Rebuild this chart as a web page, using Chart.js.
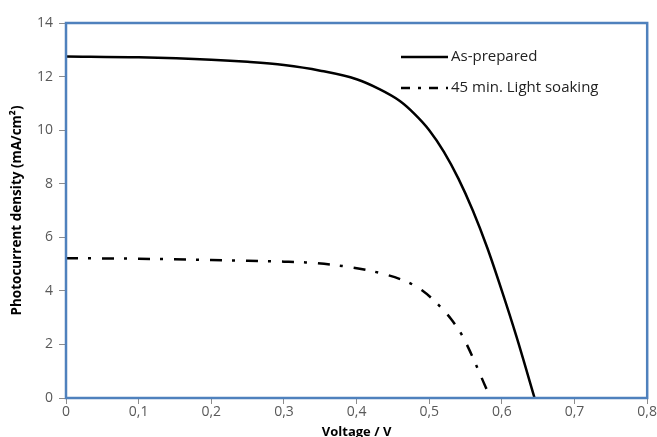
<!DOCTYPE html>
<html>
<head>
<meta charset="utf-8">
<script src="https://cdn.jsdelivr.net/npm/chart.js@4/dist/chart.umd.min.js"></script>
<style>
  html, body { margin: 0; padding: 0; background: #fff; }
  #wrap { width: 657px; height: 437px; position: relative; }
</style>
</head>
<body>
<div id="wrap"><canvas id="grafico" width="657" height="437"></canvas></div>
<script>
// Dati
const voltAsPrepared = [0, 0.1, 0.2, 0.25, 0.3, 0.35, 0.4, 0.43, 0.46, 0.48, 0.5, 0.52, 0.54, 0.56, 0.58, 0.6, 0.62, 0.645];
const jAsPrepared = [12.75, 12.72, 12.63, 12.55, 12.43, 12.22, 11.9, 11.55, 11.08, 10.6, 10.0, 9.2, 8.2, 7.0, 5.6, 4.0, 2.3, 0];

const voltSoaking = [0, 0.1, 0.2, 0.25, 0.3, 0.33, 0.38, 0.43, 0.47, 0.49, 0.51, 0.53, 0.545, 0.556, 0.567, 0.577, 0.585];
const jSoaking = [5.22, 5.2, 5.15, 5.12, 5.09, 5.06, 4.93, 4.68, 4.33, 4.02, 3.55, 2.95, 2.35, 1.75, 1.08, 0.45, 0];

const xTicks = [0, 0.1, 0.2, 0.3, 0.4, 0.5, 0.6, 0.7, 0.8];
const yTicks = [0, 2, 4, 6, 8, 10, 12, 14];
const etichette = ['As-prepared', '45 min. Light soaking'];

const trattoPunto = [12, 10, 3, 11];

function punti(xs, ys) {
    return xs.map((x, i) => ({ x: x, y: ys[i] }));
}

// Cornice blu dell'area del grafico
const cornice = {
    id: 'cornice',
    afterDraw(chart) {
        const { ctx, chartArea: a } = chart;
        ctx.save();
        ctx.strokeStyle = '#4f81bd';
        ctx.lineWidth = 2.5;
        ctx.strokeRect(a.left, a.top, a.right - a.left, a.bottom - a.top);
        ctx.restore();
    }
};

// Legenda disegnata dentro l'area del grafico
const legendaInterna = {
    id: 'legendaInterna',
    afterDraw(chart) {
        const ctx = chart.ctx;
        const righe = [
            { y: 57, dash: [] },
            { y: 88, dash: [9, 8, 3, 8] }
        ];
        ctx.save();
        ctx.font = '15px "Open Sans", sans-serif';
        ctx.textBaseline = 'middle';
        righe.forEach((r, i) => {
            ctx.strokeStyle = '#000';
            ctx.lineWidth = 2.5;
            ctx.setLineDash(r.dash);
            ctx.beginPath();
            ctx.moveTo(401, r.y);
            ctx.lineTo(448, r.y);
            ctx.stroke();
            ctx.setLineDash([]);
            ctx.fillStyle = '#222';
            ctx.fillText(etichette[i], 451, r.y);
        });
        ctx.restore();
    }
};

const ctx = document.getElementById('grafico').getContext('2d');
new Chart(ctx, {
    type: 'scatter',
    data: {
        datasets: [{
            label: etichette[0],
            data: punti(voltAsPrepared, jAsPrepared),
            showLine: true,
            borderColor: '#000',
            borderWidth: 2.5,
            pointRadius: 0,
            cubicInterpolationMode: 'monotone'
        }, {
            label: etichette[1],
            data: punti(voltSoaking, jSoaking),
            showLine: true,
            borderColor: '#000',
            borderWidth: 2.5,
            borderDash: trattoPunto,
            pointRadius: 0,
            cubicInterpolationMode: 'monotone'
        }]
    },
    options: {
        responsive: false,
        animation: false,
        layout: { padding: { top: 23, right: 7, left: 0, bottom: 0 } },
        plugins: {
            legend: { display: false },
            tooltip: { enabled: false }
        },
        scales: {
            x: {
                type: 'linear',
                min: 0,
                max: 0.8,
                afterBuildTicks: (s) => { s.ticks = xTicks.map(v => ({ value: v })); },
                afterFit: (s) => { s.height = 39; },
                grid: { display: true, drawOnChartArea: false, drawTicks: true, tickLength: 6, tickColor: '#8c8c8c' },
                border: { display: false },
                ticks: {
                    color: '#595959',
                    font: { family: '"Open Sans", sans-serif', size: 14 },
                    padding: 0,
                    maxRotation: 0,
                    callback: (v) => String(v).replace('.', ',')
                },
                title: {
                    display: true,
                    text: 'Voltage / V',
                    color: '#000',
                    font: { family: '"Open Sans", sans-serif', size: 13, weight: 'bold' },
                    padding: { top: 0, bottom: -3 }
                }
            },
            y: {
                type: 'linear',
                min: 0,
                max: 14,
                afterBuildTicks: (s) => { s.ticks = yTicks.map(v => ({ value: v })); },
                afterFit: (s) => { s.width = 66; },
                grid: { display: true, drawOnChartArea: false, drawTicks: true, tickLength: 7, tickColor: '#8c8c8c' },
                border: { display: false },
                ticks: {
                    color: '#595959',
                    font: { family: '"Open Sans", sans-serif', size: 14 },
                    padding: 6
                },
                title: {
                    display: true,
                    text: 'Photocurrent density (mA/cm²)',
                    color: '#000',
                    font: { family: '"Open Sans", sans-serif', size: 13.5, weight: 'bold' },
                    padding: { top: 9, bottom: 0 }
                }
            }
        }
    },
    plugins: [cornice, legendaInterna]
});
</script>
</body>
</html>
